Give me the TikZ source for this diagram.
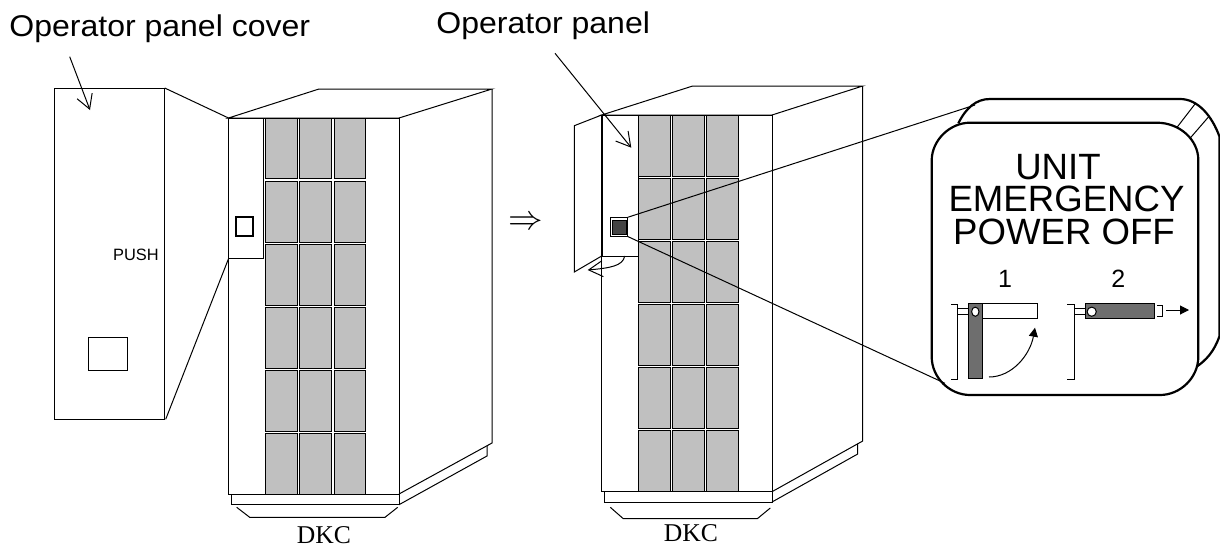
\documentclass[tikz,border=0pt]{standalone}
\usepackage{fontspec}
\setmainfont{Liberation Sans}
\newfontfamily\dkcfont{Liberation Serif}
\usetikzlibrary{arrows.meta, positioning}
\definecolor{cellgray}{HTML}{C0C0C0}
\definecolor{levergray}{HTML}{6E6E6E}
\definecolor{keygray}{HTML}{444444}
\tikzstyle{edge} = [line width=0.5pt, line join=miter]
\tikzstyle{cell} = [edge, fill=cellgray]
\tikzstyle{thickedge} = [line width=1.1pt]
\tikzstyle{leader} = [edge, -{Straight Barb[length=7pt, width=8pt]}]
\tikzstyle{solidarrow} = [edge, -{Triangle[length=4.5pt, width=4.5pt]}]
\tikzstyle{callout} = [font=\fontsize{15}{16}\selectfont, inner sep=0pt, xscale=1.067, anchor=base west]
\tikzstyle{dkclabel} = [font=\fontsize{12.8}{14}\dkcfont, inner sep=0pt, anchor=base]
\tikzstyle{steplabel} = [font=\fontsize{12.5}{14}\selectfont, inner sep=0pt]
\tikzstyle{titleline} = [font=\fontsize{18.3}{20}\selectfont, inner sep=0pt, anchor=base]
\tikzstyle{pin} = [draw, fill=white, circle, line width=0.5pt, inner sep=0pt, minimum size=4.6pt]

\begin{document}
\begin{tikzpicture}[x=0.5pt, y=-0.5pt]
    \useasboundingbox (0,0) rectangle (1220,546);

    % Labels
    \node (covertext) [callout] at (9,36) {Operator panel cover};
    \node (paneltext) [callout] at (436,33) {Operator panel};
    \node (pushtext) [inner sep=0pt, font=\fontsize{8.2}{9}\selectfont] at (136,255) {PUSH};
    \node (dkcleft) [dkclabel] at (324,543.5) {DKC};
    \node (dkcright) [dkclabel] at (691,541.5) {DKC};
    \node (nextsign) [inner sep=0pt, font=\fontsize{18}{20}\selectfont] at (526,223) {$\Rightarrow$};

    % Operator panel cover
    \draw [edge] (54.3,88) rectangle (164.7,419.3);
    \draw [edge] (88.7,337.3) rectangle (127.7,370.7);
    \coordinate (coverend) at (69.7,56.7);
    \coordinate (covertip) at (90,110);
    \draw [leader] (coverend) -- (covertip);

    % Left cabinet
    \draw [edge] (228.5,118) -- (319,89) -- (492,89) -- (399,118) -- cycle;
    \draw [edge] (228.5,118) rectangle (399,494);
    \draw [edge] (492,89) -- (492,443) -- (399,494);
    \draw [edge] (487,446) -- (487,456) -- (399,504.7);
    \draw [edge] (231,494) rectangle (399,504.7);
    \draw [edge] (236.7,507.3) -- (249.7,517.3) -- (385,517.3) -- (397.7,507.3);
    \foreach \xa/\xb in {265.7/297.3, 299.7/331.7, 334.3/365.3}
        \foreach \ya/\yb in {118/178.5, 181/242.5, 244.5/305.5, 307.5/368, 370.5/431.5, 433.5/494}
            \draw [cell] (\xa,\ya) rectangle (\xb,\yb);
    \draw [edge] (228.5,118) rectangle (263.7,258.7);
    \draw [thickedge] (235.7,216.7) rectangle (253,236);
    \draw [edge] (164.7,88) -- (228.5,118);
    \draw [edge] (228.5,258.7) -- (165.7,419.3);

    % Right cabinet
    \draw [edge] (601.7,115) -- (692.7,86) -- (862.7,86) -- (772,115) -- cycle;
    \draw [edge] (601.7,115) rectangle (772,491.7);
    \draw [edge] (862.7,86) -- (862.7,441) -- (772,491.7);
    \draw [edge] (857.7,444) -- (857.7,454) -- (772,502);
    \draw [edge] (604.3,491.7) rectangle (772,502);
    \draw [edge] (610.3,507.3) -- (623.3,518.7) -- (757.3,518.7) -- (770.3,508);
    \foreach \xa/\xb in {638.7/670.7, 672.7/704.7, 706.7/738.7}
        \foreach \ya/\yb in {115/176.5, 178/239.3, 241.3/302.3, 304.3/365.3, 367.3/428.3, 430/491.7}
            \draw [cell] (\xa,\ya) rectangle (\xb,\yb);
    \draw [edge] (601.7,115) rectangle (638.7,256);
    \draw [thickedge] (601.7,115) -- (601.7,256);
    \draw [edge] (601.7,115) -- (574.3,125.7) -- (574.3,272) -- (601.7,256);
    \draw [edge, fill=white] (610.3,217.7) rectangle (627.7,236.3);
    \draw [edge, fill=keygray] (612.7,220.3) rectangle (626,234);
    \coordinate (panelend) at (555,53.3);
    \coordinate (paneltip) at (631.3,147.7);
    \draw [leader] (panelend) -- (paneltip);
    \coordinate (swingstart) at (624.7,256);
    \coordinate (swingtip) at (587.7,270);
    \draw [leader] (swingstart) .. controls (623,266) and (610,268) .. (swingtip);

    % Enlarged panel, back then front
    \draw [thickedge] (958.3,123.3) .. controls (966,108) and (976,99) .. (990,99) -- (1180,99)
        .. controls (1198,99) and (1212,116) .. (1219.5,136.7) -- (1219.5,336)
        .. controls (1214,352) and (1206,360) .. (1196.7,366.7);
    \draw [edge] (1195,104) -- (1176.7,127.7);
    \draw [edge] (1209.3,116) -- (1190,138.3);
    \draw [thickedge, fill=white] (931.7,160) .. controls (932,140) and (950,122.7) .. (970,122.7) -- (1156.7,122.7)
        .. controls (1180,122.7) and (1198.3,140) .. (1198.3,160) -- (1198.3,356.7)
        .. controls (1198.3,378) and (1180,395) .. (1160,395) -- (970,395)
        .. controls (950,395) and (931.7,378) .. (931.7,356.7) -- cycle;
    \coordinate (keytop) at (627.7,217.3);
    \coordinate (keybottom) at (627.7,236.5);
    \coordinate (zoomtop) at (975,105);
    \coordinate (zoombottom) at (945,383.3);
    \draw [edge] (keytop) -- (zoomtop);
    \draw [edge] (keybottom) -- (zoombottom);
    \node (unitline) [titleline] at (1058,179.3) {UNIT};
    \node (emergencyline) [titleline] at (1066.5,211.7) {EMERGENCY};
    \node (powerline) [titleline] at (1064,244) {POWER OFF};
    \node (one) [steplabel] at (1005,279) {1};
    \node (two) [steplabel] at (1118.3,279) {2};

    % Lever 1
    \draw [edge] (951,304) -- (957.7,304) -- (957.7,379) -- (951,379);
    \draw [edge] (957.7,308.3) -- (968.3,308.3);
    \draw [edge] (957.7,314.3) -- (968.3,314.3);
    \draw [edge] (982,303.3) rectangle (1037.7,318.3);
    \draw [edge, fill=levergray] (968.3,303.3) rectangle (982,378.3);
    \node (pinone) [pin, xscale=0.8] at (975.3,311.7) {};
    \coordinate (turnstart) at (989,377);
    \coordinate (turntip) at (1035,327.7);
    \draw [solidarrow] (turnstart) .. controls (1012,377) and (1030,355) .. (turntip);

    % Lever 2
    \draw [edge] (1067,304) -- (1074,304) -- (1074,379) -- (1067,379);
    \draw [edge] (1074,308.3) -- (1085,308.3);
    \draw [edge] (1074,314.3) -- (1085,314.3);
    \draw [edge, fill=levergray] (1085,303.3) rectangle (1154.3,318.3);
    \node (pintwo) [pin] at (1091.7,311.7) {};
    \draw [edge] (1157.3,305) -- (1162.7,305) -- (1162.7,316.7) -- (1157.3,316.7);
    \coordinate (pullstart) at (1166,310);
    \coordinate (pulltip) at (1189,310);
    \draw [solidarrow] (pullstart) -- (pulltip);
\end{tikzpicture}
\end{document}
